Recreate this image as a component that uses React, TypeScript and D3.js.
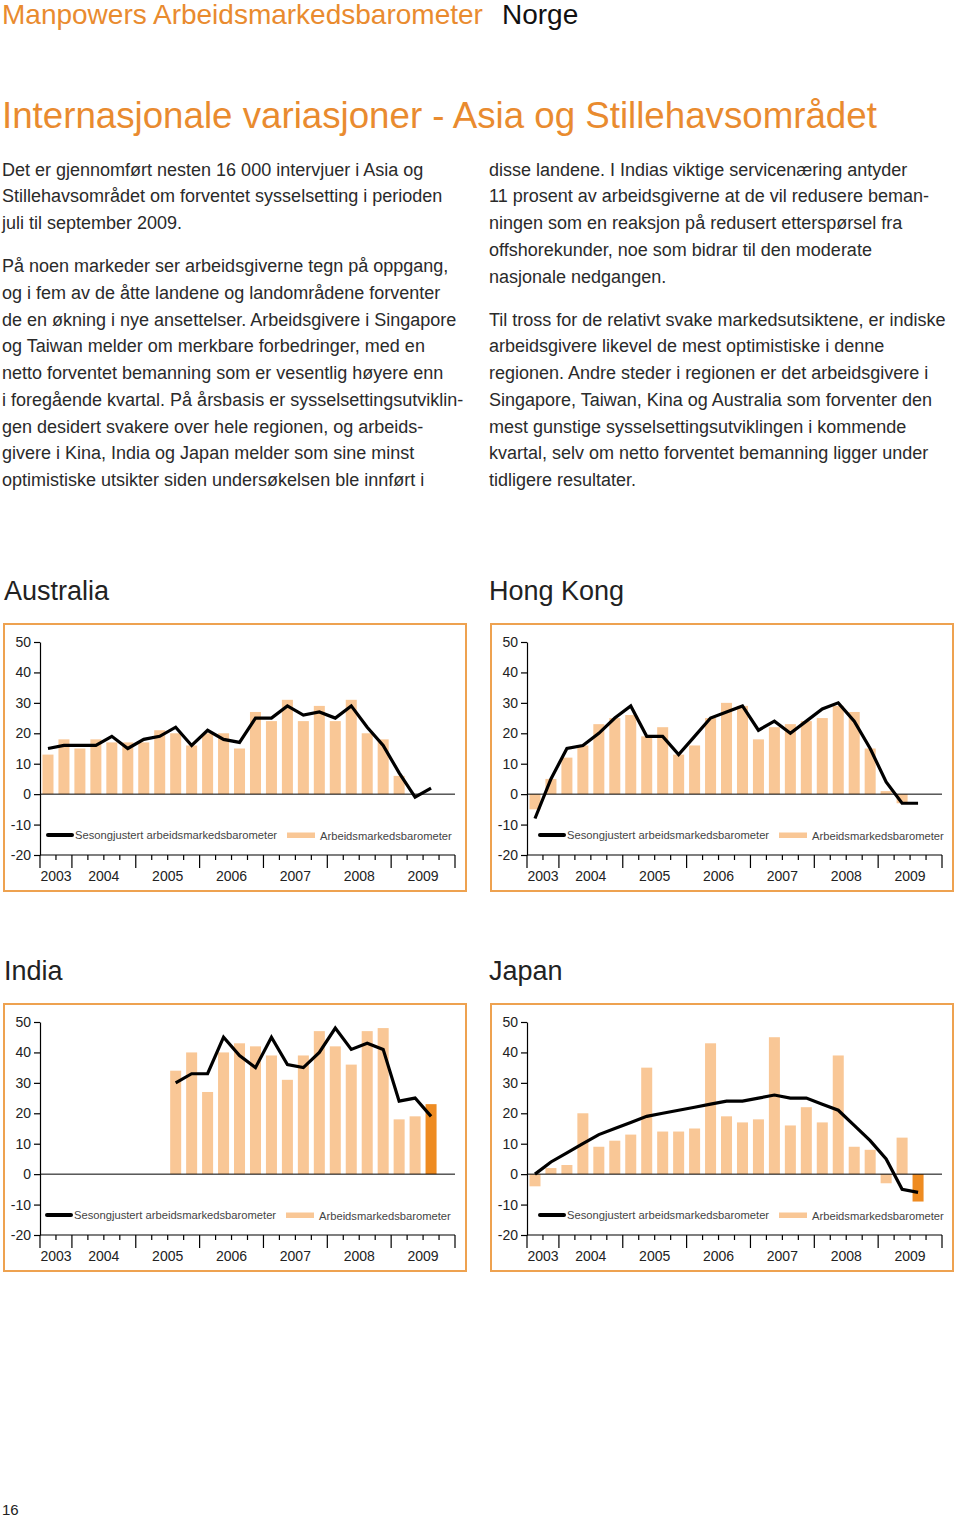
import React, { useRef, useEffect } from 'react';
import * as d3 from 'd3';

// quarter slots shown on each x axis (2003 K3 .. 2009 K4)
const quarters = [
  '2003-3', '2003-4',
  '2004-1', '2004-2', '2004-3', '2004-4',
  '2005-1', '2005-2', '2005-3', '2005-4',
  '2006-1', '2006-2', '2006-3', '2006-4',
  '2007-1', '2007-2', '2007-3', '2007-4',
  '2008-1', '2008-2', '2008-3', '2008-4',
  '2009-1', '2009-2', '2009-3', '2009-4',
];
const years = ['2003', '2004', '2005', '2006', '2007', '2008', '2009'];
const yTicks = [-20, -10, 0, 10, 20, 30, 40, 50];

type V = number | null;

const australiaBars: V[] = [13, 18, 15, 18, 17, 17, 17, 21, 20, 16, 20, 20, 15, 27, 24, 31, 24, 29, 24, 31, 20, 18, 6, null, null, null];
const australiaLine: V[] = [15, 16, 16, 16, 19, 15, 18, 19, 22, 16, 21, 18, 17, 25, 25, 29, 26, 27, 25, 29, 22, 16, 7, -1, 2, null];

const hongKongBars: V[] = [-5, 5, 12, 16, 23, 25, 26, 19, 22, 13, 16, 25, 30, 29, 18, 22, 23, 24, 25, 29, 27, 15, 1, -3, null, null];
const hongKongLine: V[] = [-8, 5, 15, 16, 20, 25, 29, 19, 19, 13, 19, 25, 27, 29, 21, 24, 20, 24, 28, 30, 24, 15, 4, -3, -3, null];

const indiaBars: V[] = [null, null, null, null, null, null, null, null, 34, 40, 27, 40, 43, 42, 39, 31, 39, 47, 42, 36, 47, 48, 18, 19, 23, null];
const indiaLine: V[] = [null, null, null, null, null, null, null, null, 30, 33, 33, 45, 39, 35, 45, 36, 35, 40, 48, 41, 43, 41, 24, 25, 19, null];

const japanBars: V[] = [-4, 2, 3, 20, 9, 11, 13, 35, 14, 14, 15, 43, 19, 17, 18, 45, 16, 22, 17, 39, 9, 8, -3, 12, -9, null];
const japanLine: V[] = [0, 4, 7, 10, 13, 15, 17, 19, 20, 21, 22, 23, 24, 24, 25, 26, 25, 25, 23, 21, 16, 11, 5, -5, -6, null];

const currentQuarter = '2009-3';

const legendLine = 'Sesongjustert arbeidsmarkedsbarometer';
const legendBar = 'Arbeidsmarkedsbarometer';

const leftColumn = [
  ['Det er gjennomført nesten 16 000 intervjuer i Asia og',
    'Stillehavsområdet om forventet sysselsetting i perioden',
    'juli til september 2009.'],
  ['På noen markeder ser arbeidsgiverne tegn på oppgang,',
    'og i fem av de åtte landene og landområdene forventer',
    'de en økning i nye ansettelser. Arbeidsgivere i Singapore',
    'og Taiwan melder om merkbare forbedringer, med en',
    'netto forventet bemanning som er vesentlig høyere enn',
    'i foregående kvartal. På årsbasis er sysselsettingsutviklin-',
    'gen desidert svakere over hele regionen, og arbeids-',
    'givere i Kina, India og Japan melder som sine minst',
    'optimistiske utsikter siden undersøkelsen ble innført i'],
];
const rightColumn = [
  ['disse landene. I Indias viktige servicenæring antyder',
    '11 prosent av arbeidsgiverne at de vil redusere beman-',
    'ningen som en reaksjon på redusert etterspørsel fra',
    'offshorekunder, noe som bidrar til den moderate',
    'nasjonale nedgangen.'],
  ['Til tross for de relativt svake markedsutsiktene, er indiske',
    'arbeidsgivere likevel de mest optimistiske i denne',
    'regionen. Andre steder i regionen er det arbeidsgivere i',
    'Singapore, Taiwan, Kina og Australia som forventer den',
    'mest gunstige sysselsettingsutviklingen i kommende',
    'kvartal, selv om netto forventet bemanning ligger under',
    'tidligere resultater.'],
];

const ORANGE = '#E98B2F';
const FRAME = '#EEA250';
const BAR = '#F9C796';
const BAR_DARK = '#EE8B21';
const FONT = '"Liberation Sans", Arial, Helvetica, sans-serif';

const charts = [
  { name: 'Australia', x: 4, y: 624, bars: australiaBars, line: australiaLine, legendDx: 0 },
  { name: 'Hong Kong', x: 491, y: 624, bars: hongKongBars, line: hongKongLine, legendDx: 5 },
  { name: 'India', x: 4, y: 1004, bars: indiaBars, line: indiaLine, legendDx: -1 },
  { name: 'Japan', x: 491, y: 1004, bars: japanBars, line: japanLine, legendDx: 5 },
];

const FRAME_W = 462;
const FRAME_H = 267;

const Chart: React.FC<{ cfg: typeof charts[number] }> = ({ cfg }) => {
  const ref = useRef<SVGGElement>(null);

  useEffect(() => {
    if (!ref.current) return;
    const g = d3.select(ref.current);
    g.selectAll('*').remove();

    const { x: fx, y: fy } = cfg;
    const left = fx + 36;
    const right = fx + 451;

    const xScale = d3.scaleBand<string>()
      .domain(quarters)
      .range([left, right])
      .paddingInner(0.31)
      .paddingOuter(0.155);
    const yScale = d3.scaleLinear().domain([-20, 50]).range([fy + 231, fy + 18]);
    const step = xScale.step();

    // frame
    g.append('rect')
      .attr('x', fx).attr('y', fy)
      .attr('width', FRAME_W).attr('height', FRAME_H)
      .attr('fill', '#fff')
      .attr('stroke', FRAME)
      .attr('stroke-width', 2);

    // bars
    g.append('g').selectAll('rect')
      .data(quarters.map((q, i) => ({ q, v: cfg.bars[i] })).filter(d => d.v != null))
      .join('rect')
      .attr('x', d => xScale(d.q)!)
      .attr('width', xScale.bandwidth())
      .attr('y', d => Math.min(yScale(d.v as number), yScale(0)))
      .attr('height', d => Math.abs(yScale(d.v as number) - yScale(0)))
      .attr('fill', d => (d.q === currentQuarter ? BAR_DARK : BAR));

    // zero line + bottom axis line
    g.append('line')
      .attr('x1', left).attr('x2', right)
      .attr('y1', yScale(0)).attr('y2', yScale(0))
      .attr('stroke', '#000').attr('stroke-width', 1);
    g.append('line')
      .attr('x1', left).attr('x2', right)
      .attr('y1', yScale(-20)).attr('y2', yScale(-20))
      .attr('stroke', '#000').attr('stroke-width', 1.2);

    // y axis
    const yAxis = d3.axisLeft(yScale)
      .tickValues(yTicks)
      .tickSize(6)
      .tickSizeOuter(0)
      .tickPadding(3)
      .tickFormat(d => String(d));
    const ya = g.append('g').attr('transform', `translate(${left},0)`).call(yAxis);
    ya.selectAll('path,line').attr('stroke', '#000').attr('stroke-width', 1.2);
    ya.selectAll('text')
      .attr('font-family', FONT)
      .attr('font-size', 14)
      .attr('fill', '#222');

    // x ticks at quarter boundaries
    const bottom = yScale(-20);
    const bounds = d3.range(quarters.length + 1);
    g.append('g').selectAll('line')
      .data(bounds)
      .join('line')
      .attr('x1', i => left + i * step)
      .attr('x2', i => left + i * step)
      .attr('y1', bottom)
      .attr('y2', i => (i === 0 || i === quarters.length || quarters[i].endsWith('-1') ? bottom + 13 : bottom + 5))
      .attr('stroke', '#000')
      .attr('stroke-width', 1.2);

    // year labels, centred under their quarters
    g.append('g').selectAll('text')
      .data(years)
      .join('text')
      .attr('x', yr => {
        const qs = quarters.filter(q => q.startsWith(yr));
        const a = xScale(qs[0])! - (step - xScale.bandwidth()) / 2;
        const b = xScale(qs[qs.length - 1])! + xScale.bandwidth() + (step - xScale.bandwidth()) / 2;
        return (a + b) / 2;
      })
      .attr('y', fy + 257)
      .attr('text-anchor', 'middle')
      .attr('font-family', FONT)
      .attr('font-size', 14)
      .attr('fill', '#222')
      .text(yr => yr);

    // line series
    const line = d3.line<V>()
      .defined(d => d != null)
      .x((_, i) => xScale(quarters[i])! + xScale.bandwidth() / 2)
      .y(d => yScale(d as number));
    g.append('path')
      .attr('d', line(cfg.line) || '')
      .attr('fill', 'none')
      .attr('stroke', '#000')
      .attr('stroke-width', 3.2)
      .attr('stroke-linejoin', 'miter');

    // legend
    const ly = fy + 211;
    const dx = cfg.legendDx;
    g.append('line')
      .attr('x1', fx + 44 + dx).attr('x2', fx + 68 + dx)
      .attr('y1', ly).attr('y2', ly)
      .attr('stroke', '#000').attr('stroke-width', 4)
      .attr('stroke-linecap', 'round');
    g.append('text')
      .attr('x', fx + 71 + dx).attr('y', ly + 4)
      .attr('font-family', FONT).attr('font-size', 11.2).attr('fill', '#444')
      .text(legendLine);
    g.append('rect')
      .attr('x', fx + 283 + dx).attr('y', ly - 2.5)
      .attr('width', 28).attr('height', 5.5)
      .attr('fill', BAR);
    g.append('text')
      .attr('x', fx + 316 + dx).attr('y', ly + 4.5)
      .attr('font-family', FONT).attr('font-size', 11.2).attr('fill', '#444')
      .text(legendBar);
  }, [cfg]);

  return (
    <g>
      <text x={cfg.x === 4 ? 4 : 489} y={cfg.y - 24} fontFamily={FONT} fontSize={27} fill="#222">
        {cfg.name}
      </text>
      <g ref={ref} />
    </g>
  );
};

const LINE_H = 26.75;
const PARA_GAP = 16.25;

function columnLines(paras: string[][], top: number) {
  const out: { t: string; y: number }[] = [];
  let y = top;
  paras.forEach((p, pi) => {
    if (pi > 0) y += PARA_GAP;
    p.forEach(t => {
      out.push({ t, y });
      y += LINE_H;
    });
  });
  return out;
}

const App: React.FC = () => {
  const left = columnLines(leftColumn, 175.5);
  const right = columnLines(rightColumn, 175.5);
  return (
    <svg
      width={960}
      height={1517}
      style={{ position: 'absolute', left: 0, top: 0, background: '#fff' }}
    >
      <text x={2} y={24} fontFamily={FONT} fontSize={28} fill={ORANGE}>
        Manpowers Arbeidsmarkedsbarometer
        <tspan x={502} fill="#111">Norge</tspan>
      </text>
      <text x={2} y={128} fontFamily={FONT} fontSize={36.7} fill={ORANGE}>
        Internasjonale variasjoner - Asia og Stillehavsområdet
      </text>
      <g fontFamily={FONT} fontSize={18} fill="#2a2a2a">
        {left.map((l, i) => (
          <text key={'l' + i} x={2} y={l.y}>{l.t}</text>
        ))}
        {right.map((l, i) => (
          <text key={'r' + i} x={489} y={l.y}>{l.t}</text>
        ))}
      </g>
      {charts.map(c => (
        <Chart key={c.name} cfg={c} />
      ))}
      <text x={2} y={1515} fontFamily={FONT} fontSize={15} fill="#222">16</text>
    </svg>
  );
};

export default App;
